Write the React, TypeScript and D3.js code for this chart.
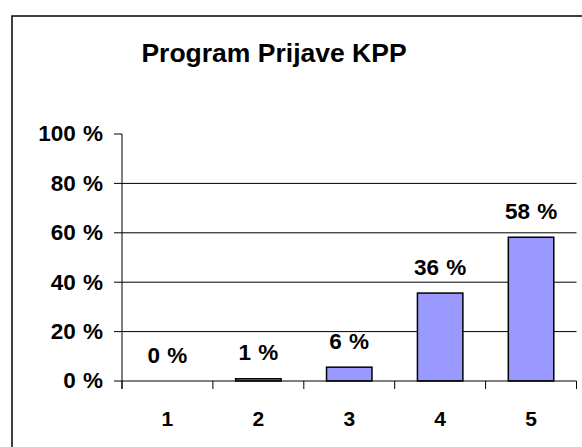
import React from "react";
import * as d3 from "d3";

const categories = ["1", "2", "3", "4", "5"];
const values = [0, 0.9, 5.6, 35.6, 58.2];
const yTicks = [0, 20, 40, 60, 80, 100];
const gridValues = [20, 40, 60, 80];
const title = "Program Prijave KPP";

const W = 582;
const H = 447;
const left = 122;
const right = 576.5;
const top = 134;
const bottom = 381;
const font = "'Liberation Sans', Arial, sans-serif";

export default function App() {
  const x = d3
    .scaleBand<string>()
    .domain(categories)
    .range([left, right])
    .paddingInner(0.5)
    .paddingOuter(0.25);
  const y = d3.scaleLinear().domain([0, 100]).range([bottom, top]);
  const step = x.step();
  const boundaries = d3.range(categories.length + 1).map((i) => left + i * step);
  const fmt = (v: number) => `${Math.round(v)} %`;

  return (
    <svg
      width={W}
      height={H}
      style={{ position: "absolute", left: 0, top: 0, background: "#fff" }}
      fontFamily={font}
    >
      <rect x={0} y={0} width={W} height={H} fill="#fff" />
      <rect x={12} y={16} width={620} height={520} fill="none" stroke="#000" strokeWidth={1.5} />
      <text x={274} y={61.5} textAnchor="middle" fontSize={26.5} fontWeight="bold">
        {title}
      </text>
      {gridValues.map((v) => (
        <line key={"g" + v} x1={left} x2={right} y1={y(v)} y2={y(v)} stroke="#000" strokeWidth={1} />
      ))}
      {yTicks.map((v) => (
        <g key={"t" + v}>
          <line x1={114} x2={left} y1={y(v)} y2={y(v)} stroke="#000" strokeWidth={1} />
          <text x={103} y={y(v)} dy="0.33em" textAnchor="end" fontSize={22.5} fontWeight="bold" wordSpacing={1}>
            {fmt(v)}
          </text>
        </g>
      ))}
      {categories.map((c, i) => (
        <g key={"b" + c}>
          <rect
            x={x(c)!}
            y={y(values[i])}
            width={x.bandwidth()}
            height={bottom - y(values[i])}
            fill="#9999FF"
            stroke="#000"
            strokeWidth={values[i] > 0 ? 1.5 : 0}
          />
          <text
            x={x(c)! + x.bandwidth() / 2}
            y={y(values[i]) - 18.5}
            textAnchor="middle"
            fontSize={22.5}
            fontWeight="bold"
            wordSpacing={1}
          >
            {fmt(values[i])}
          </text>
          <text x={x(c)! + x.bandwidth() / 2} y={426} textAnchor="middle" fontSize={21} fontWeight="bold">
            {c}
          </text>
        </g>
      ))}
      <line x1={left} x2={left} y1={top} y2={bottom + 8} stroke="#000" strokeWidth={1} />
      <line x1={left} x2={right} y1={bottom} y2={bottom} stroke="#000" strokeWidth={1} />
      {boundaries.map((b, i) => (
        <line key={"xt" + i} x1={b} x2={b} y1={bottom} y2={bottom + 8} stroke="#000" strokeWidth={1} />
      ))}
    </svg>
  );
}
